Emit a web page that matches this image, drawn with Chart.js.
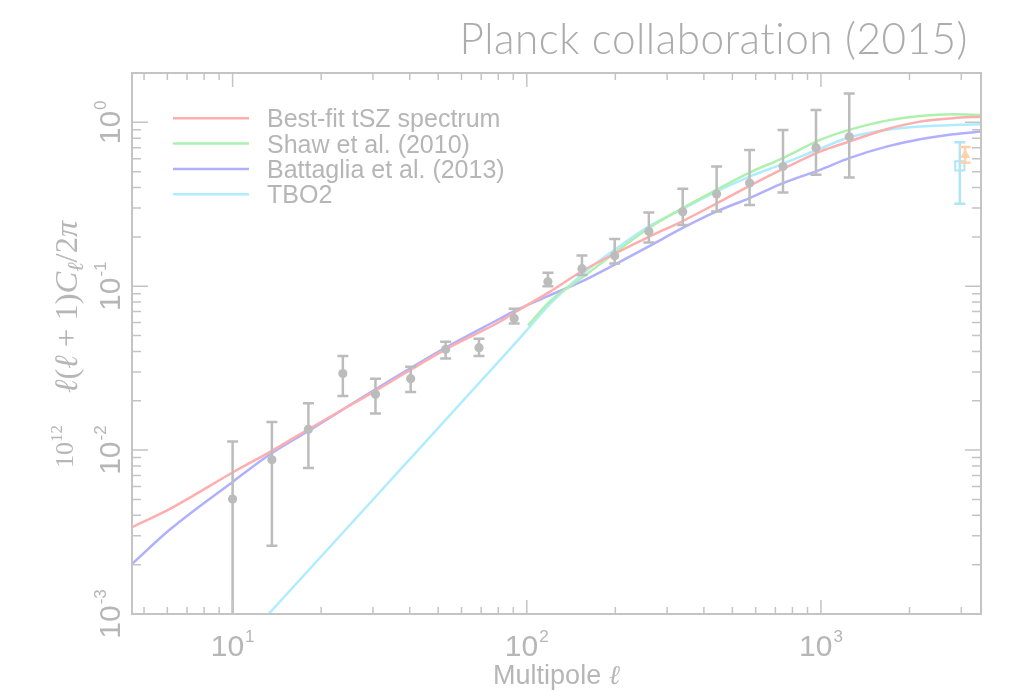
<!DOCTYPE html>
<html>
<head>
<meta charset="utf-8">
<script src="https://cdn.jsdelivr.net/npm/chart.js@4/dist/chart.umd.min.js"></script>
<style>
  html, body { margin: 0; padding: 0; background: #fff; }
  #chart { display: block; }
</style>
</head>
<body>
<canvas id="chart" width="1009" height="691"></canvas>
<script>
// tSZ bandpowers with 1-sigma limits
const bandEll = [10, 13.6, 18.1, 23.7, 30.6, 40.3, 53, 68.8, 90.6, 118, 154, 199, 260, 339, 442, 572, 743, 962, 1248];
const bandVal = [0.00503, 0.00873, 0.0134, 0.0293, 0.0219, 0.0273, 0.0412, 0.0422, 0.0636, 0.1064, 0.128, 0.1537, 0.216, 0.285, 0.365, 0.426, 0.537, 0.70, 0.816];
const bandHi = [0.0113, 0.01486, 0.0193, 0.0375, 0.0273, 0.0323, 0.0459, 0.0478, 0.0728, 0.1208, 0.154, 0.194, 0.282, 0.393, 0.537, 0.679, 0.899, 1.19, 1.50];
const bandLo = [0.0005, 0.00261, 0.00778, 0.0214, 0.0167, 0.0226, 0.0362, 0.0375, 0.0593, 0.100, 0.117, 0.1375, 0.185, 0.236, 0.286, 0.313, 0.373, 0.478, 0.461];

// high-ell points
const sptEll = [2965];
const sptVal = [0.543];
const sptHi = [0.756];
const sptLo = [0.319];
const actEll = [3090];
const actVal = [0.633];
const actHi = [0.708];
const actLo = [0.566];

// model spectra
const bestFitEll = [4.55, 6.15, 10, 13.6, 18.1, 30.6, 53, 80.9, 90.6, 118, 154, 199, 260, 339, 442, 572, 743, 993, 1248, 1671, 2172, 2814, 3500];
const bestFitVal = [0.00339, 0.0044, 0.0073, 0.0099, 0.0134, 0.0230, 0.0412, 0.0607, 0.0689, 0.091, 0.1234, 0.158, 0.20, 0.25, 0.32, 0.41, 0.52, 0.663, 0.764, 0.908, 1.01, 1.06, 1.083];
const shawEll = [101, 120, 154, 199, 260, 339, 442, 572, 743, 993, 1248, 1671, 2172, 2814, 3500];
const shawVal = [0.0577, 0.081, 0.1125, 0.1597, 0.2267, 0.300, 0.388, 0.494, 0.605, 0.781, 0.899, 1.024, 1.094, 1.12, 1.11];
const battagliaEll = [4.55, 6.15, 10, 13.6, 18.1, 30.6, 53, 80.9, 90.6, 118, 154, 199, 260, 339, 442, 572, 743, 993, 1248, 1671, 2172, 2814, 3500];
const battagliaVal = [0.00202, 0.0033, 0.0064, 0.0096, 0.0131, 0.0235, 0.0422, 0.0633, 0.0705, 0.087, 0.107, 0.1356, 0.175, 0.2267, 0.286, 0.345, 0.426, 0.513, 0.605, 0.711, 0.789, 0.846, 0.878];
const tboEll = [13.25, 87.5, 101, 120, 154, 199, 260, 339, 442, 572, 743, 993, 1248, 1671, 2172, 2814, 3500];
const tboVal = [0.001, 0.0412, 0.055, 0.078, 0.118, 0.167, 0.232, 0.296, 0.379, 0.467, 0.558, 0.69, 0.811, 0.899, 0.942, 0.964, 0.973];

// axis ticks
const xMajorTicks = [10, 100, 1000];
const xTickExps = ['1', '2', '3'];
const yMajorTicks = [0.001, 0.01, 0.1, 1];
const yTickExps = ['-3', '-2', '-1', '0'];

const xRange = [4.55, 3500];
const yRange = [0.001, 2];

const frameColor = '#c4c4c4';
const textColor = '#b6b6b6';
const pointGray = '#bcbcbc';

const sans = '"Liberation Sans", Arial, sans-serif';
const serif = '"Liberation Serif", "DejaVu Serif", serif';

const toXY = (xs, ys) => xs.map((x, i) => ({ x, y: ys[i] }));

function curve(label, xs, ys, color) {
  return {
    label,
    data: toXY(xs, ys),
    borderColor: color,
    borderWidth: 2.5,
    pointRadius: 0,
    fill: false,
    cubicInterpolationMode: 'monotone',
    order: 2
  };
}

function markers(xs, ys, lo, hi, color, style, radius, filled) {
  return {
    data: toXY(xs, ys),
    showLine: false,
    pointStyle: style,
    pointRadius: radius,
    pointBackgroundColor: filled ? color : 'rgba(0,0,0,0)',
    pointBorderColor: color,
    pointBorderWidth: filled ? 0 : 2,
    errLo: lo,
    errHi: hi,
    errColor: color,
    order: 1
  };
}

function logTicks(min, max) {
  const out = [];
  for (let e = Math.floor(Math.log10(min)); e <= Math.ceil(Math.log10(max)); e++) {
    for (let m = 1; m < 10; m++) {
      const v = m * Math.pow(10, e);
      if (v >= min * 0.999 && v <= max * 1.001) out.push({ v, major: m === 1 });
    }
  }
  return out;
}

// "10" with a raised exponent, centred on x
function drawPower(ctx, exp, x, y) {
  ctx.font = '30px ' + sans;
  const wBase = ctx.measureText('10').width;
  ctx.font = '17px ' + sans;
  const wExp = ctx.measureText(exp).width;
  const left = x - (wBase + wExp + 1) / 2;
  ctx.font = '30px ' + sans;
  ctx.fillText('10', left, y);
  ctx.font = '17px ' + sans;
  ctx.fillText(exp, left + wBase + 1, y - 14);
}

// runs of text, each with its own font and offset; font sizes are scaled by k
function runsWidth(ctx, runs, k) {
  let w = 0;
  runs.forEach(r => {
    ctx.font = r.style + ' ' + (r.size * k).toFixed(1) + 'px ' + r.family;
    w += ctx.measureText(r.text).width;
  });
  return w;
}

function drawRuns(ctx, runs, x, y, k) {
  let cx = x;
  runs.forEach(r => {
    ctx.font = r.style + ' ' + (r.size * k).toFixed(1) + 'px ' + r.family;
    ctx.fillText(r.text, cx, y + (r.dy || 0) * k);
    cx += ctx.measureText(r.text).width;
  });
}

const yTitleFormula = [
  { text: 'ℓ', style: 'italic', size: 26, family: serif },
  { text: '(', style: 'normal', size: 26, family: serif },
  { text: 'ℓ', style: 'italic', size: 26, family: serif },
  { text: ' + 1)', style: 'normal', size: 26, family: serif },
  { text: 'C', style: 'italic', size: 26, family: serif },
  { text: 'ℓ', style: 'italic', size: 18, family: serif, dy: 5 },
  { text: '/2', style: 'normal', size: 26, family: serif },
  { text: 'π', style: 'italic', size: 26, family: serif }
];
const yTitleScale = [
  { text: '10', style: 'normal', size: 26, family: serif },
  { text: '12', style: 'normal', size: 17, family: serif, dy: -11 }
];

const decorations = {
  id: 'decorations',
  afterDatasetsDraw(chart) {
    const { ctx, chartArea: a, scales: { y } } = chart;
    ctx.save();
    ctx.beginPath();
    ctx.rect(a.left, a.top, a.right - a.left, a.bottom - a.top);
    ctx.clip();
    chart.data.datasets.forEach((ds, i) => {
      if (!ds.errHi) return;
      const meta = chart.getDatasetMeta(i);
      ctx.strokeStyle = ds.errColor;
      ctx.lineWidth = 2.5;
      meta.data.forEach((pt, j) => {
        const px = pt.x;
        const yHi = y.getPixelForValue(ds.errHi[j]);
        const yLo = y.getPixelForValue(ds.errLo[j]);
        ctx.beginPath();
        ctx.moveTo(px, yHi);
        ctx.lineTo(px, yLo);
        ctx.moveTo(px - 5.5, yHi);
        ctx.lineTo(px + 5.5, yHi);
        ctx.moveTo(px - 5.5, yLo);
        ctx.lineTo(px + 5.5, yLo);
        ctx.stroke();
      });
    });
    ctx.restore();
  },
  afterDraw(chart) {
    const { ctx, chartArea: a, scales: { x, y } } = chart;
    ctx.save();

    // frame
    ctx.strokeStyle = frameColor;
    ctx.lineWidth = 2;
    ctx.strokeRect(a.left, a.top, a.right - a.left, a.bottom - a.top);

    // inward ticks on all four sides
    ctx.lineWidth = 1.5;
    ctx.beginPath();
    logTicks(xRange[0], xRange[1]).forEach(t => {
      const px = x.getPixelForValue(t.v);
      const len = t.major ? 14 : 7;
      ctx.moveTo(px, a.bottom);
      ctx.lineTo(px, a.bottom - len);
      ctx.moveTo(px, a.top);
      ctx.lineTo(px, a.top + len);
    });
    logTicks(yRange[0], yRange[1]).forEach(t => {
      const py = y.getPixelForValue(t.v);
      const len = t.major ? 16 : 9;
      ctx.moveTo(a.left, py);
      ctx.lineTo(a.left + len, py);
      ctx.moveTo(a.right, py);
      ctx.lineTo(a.right - len, py);
    });
    ctx.stroke();

    // tick labels
    ctx.fillStyle = textColor;
    ctx.textBaseline = 'alphabetic';
    ctx.textAlign = 'left';
    xMajorTicks.forEach((v, i) => {
      drawPower(ctx, xTickExps[i], x.getPixelForValue(v), a.bottom + 42);
    });
    yMajorTicks.forEach((v, i) => {
      ctx.save();
      ctx.translate(a.left - 12, y.getPixelForValue(v));
      ctx.rotate(-Math.PI / 2);
      drawPower(ctx, yTickExps[i], 0, 0);
      ctx.restore();
    });

    // x title
    ctx.font = '27px ' + sans;
    const wMulti = ctx.measureText('Multipole ').width;
    ctx.font = 'italic 27px ' + serif;
    const wEll = ctx.measureText('ℓ').width;
    const xt = (a.left + a.right) / 2 - (wMulti + wEll) / 2;
    ctx.font = '27px ' + sans;
    ctx.fillText('Multipole ', xt, 684);
    ctx.font = 'italic 27px ' + serif;
    ctx.fillText('ℓ', xt + wMulti, 684);

    // y title, read bottom to top
    ctx.save();
    ctx.translate(73, 468);
    ctx.rotate(-Math.PI / 2);
    drawRuns(ctx, yTitleScale, 0, 0, 1);
    ctx.restore();

    const kf = 173 / runsWidth(ctx, yTitleFormula, 1);
    ctx.save();
    ctx.translate(77, 393);
    ctx.rotate(-Math.PI / 2);
    drawRuns(ctx, yTitleFormula, 0, 0, Math.min(kf, 1.25));
    ctx.restore();

    // legend
    const curves = chart.data.datasets.filter(ds => ds.showLine !== false);
    curves.forEach((ds, i) => {
      const ly = 118.3 + i * 25.3;
      ctx.strokeStyle = ds.borderColor;
      ctx.lineWidth = 2.5;
      ctx.beginPath();
      ctx.moveTo(173, ly);
      ctx.lineTo(249, ly);
      ctx.stroke();
      ctx.fillStyle = textColor;
      ctx.font = '25px ' + sans;
      ctx.fillText(ds.label, 267, ly + 9);
    });

    // title
    ctx.fillStyle = '#acacac';
    ctx.textAlign = 'right';
    ctx.letterSpacing = '0.5px';
    ctx.font = '300 38px Lato, "Open Sans", sans-serif';
    const tw = ctx.measureText('Planck collaboration (2015)').width;
    const size = 38 * 510 / tw;
    ctx.font = '300 ' + size.toFixed(1) + 'px Lato, "Open Sans", sans-serif';
    ctx.fillText('Planck collaboration (2015)', 968, 54);

    ctx.restore();
  }
};

new Chart(document.getElementById('chart'), {
  type: 'line',
  data: {
    datasets: [
      curve('Best-fit tSZ spectrum', bestFitEll, bestFitVal, '#ffaeae'),
      curve('Shaw et al. (2010)', shawEll, shawVal, '#aef0ae'),
      curve('Battaglia et al. (2013)', battagliaEll, battagliaVal, '#b0b0ff'),
      curve('TBO2', tboEll, tboVal, '#b0ecff'),
      markers(bandEll, bandVal, bandLo, bandHi, pointGray, 'circle', 4.6, true),
      markers(sptEll, sptVal, sptLo, sptHi, '#aee6f8', 'rect', 6.5, false),
      markers(actEll, actVal, actLo, actHi, '#ffd2ac', 'triangle', 6, true)
    ]
  },
  options: {
    responsive: false,
    animation: false,
    devicePixelRatio: 1,
    layout: { padding: { left: 132, top: 73, right: 28, bottom: 77 } },
    plugins: {
      legend: { display: false },
      tooltip: { enabled: false },
      title: { display: false }
    },
    scales: {
      x: { type: 'logarithmic', min: xRange[0], max: xRange[1], display: false },
      y: { type: 'logarithmic', min: yRange[0], max: yRange[1], display: false }
    }
  },
  plugins: [decorations]
});
</script>
</body>
</html>
